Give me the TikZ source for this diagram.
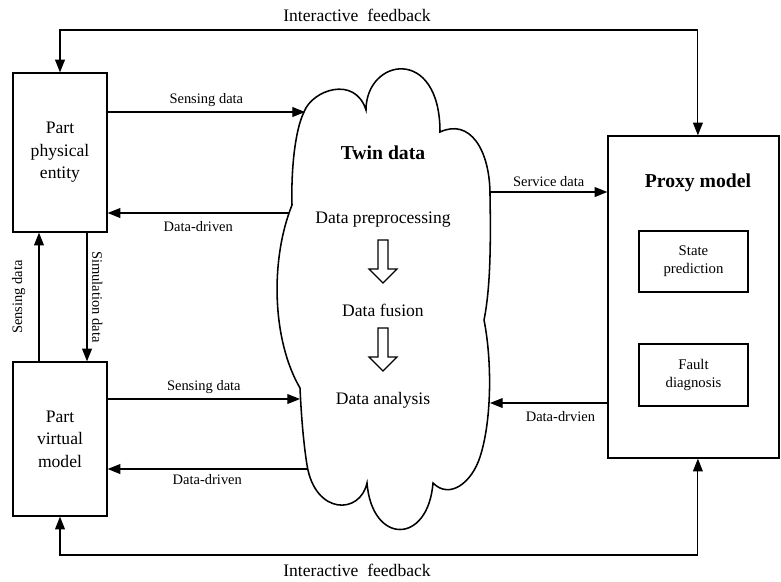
\documentclass[tikz,border=0pt]{standalone}
\usepackage{fontspec}
\setmainfont{Liberation Serif}
\usetikzlibrary{arrows.meta}
\tikzset{
  box/.style={draw, line width=0.9pt, align=center, inner sep=0pt},
  arr/.style={-{Triangle[length=9pt,width=7pt]}, line width=0.8pt},
  lab/.style={font=\fontsize{10.3}{12}\selectfont},
  big/.style={font=\fontsize{12.5}{16}\selectfont},
  title/.style={font=\fontsize{14}{16}\selectfont\bfseries},
}
\begin{document}
\begin{tikzpicture}[x=0.025cm, y=-0.025cm]
  \useasboundingbox (0,0) rectangle (781,581);
  % 零件物理实体与虚拟模型
  \node[box, big, minimum width=2.35cm, minimum height=3.975cm] (phy) at (60,152.5) {Part\\physical\\entity};
  \node[box, big, minimum width=2.35cm, minimum height=3.85cm] (vir) at (60,439) {Part\\virtual\\model};
  % 代理模型
  \node[box, minimum width=4.275cm, minimum height=8.05cm] (pro) at (693.5,297) {};
  \node[title] (ptitle) at (698,183) {Proxy model};
  \node[box, font=\fontsize{10.5}{12.7}\selectfont, minimum width=2.725cm, minimum height=1.525cm] (state) at (693.5,261.5) {State\\prediction};
  \node[box, font=\fontsize{10.5}{12.7}\selectfont, minimum width=2.725cm, minimum height=1.55cm] (fault) at (693.5,375) {Fault\\diagnosis};
  % 孪生数据云
  \draw[line width=1.1pt] (304,112)
    .. controls (312,90) and (355,75) .. (366,110)
    .. controls (366,58) and (440,45) .. (440,132)
    .. controls (470,118) and (490,150) .. (490,195)
    .. controls (491,250) and (490,290) .. (484,320)
    .. controls (492,360) and (492,420) .. (480,457)
    .. controls (472,482) and (450,500) .. (433,483)
    .. controls (428,545) and (372,545) .. (367,483)
    .. controls (360,515) and (315,515) .. (307,465)
    .. controls (303,440) and (301,410) .. (300,388)
    .. controls (272,340) and (270,260) .. (292,205)
    .. controls (291,170) and (295,130) .. (304,112) -- cycle;
  \node[title] (twin) at (383,153) {Twin data};
  \node[big] (pre) at (383,220) {Data preprocessing};
  \node[big] (fus) at (383,310) {Data fusion};
  \node[big] (ana) at (383,400) {Data analysis};
  % 空心箭头
  \foreach \y in {240,328}
    \draw[line width=0.8pt] (378,\y) -- (388,\y) -- (388,\y+29) -- (397,\y+29)
      -- (383,\y+43) -- (369,\y+29) -- (378,\y+29) -- cycle;
  % 云边上的连接点
  \coordinate (ct1) at (305,112);
  \coordinate (ct2) at (289,213);
  \coordinate (cb1) at (300,399);
  \coordinate (cb2) at (307,469);
  \coordinate (cr1) at (490,192);
  \coordinate (cr2) at (490,403);
  % 实体与云之间
  \draw[arr] (ct1 -| phy.east) -- (ct1) node[lab, midway, above] {Sensing data};
  \draw[arr] (ct2) -- (ct2 -| phy.east) node[lab, midway, below=2pt] {Data-driven};
  \draw[arr] (cb1 -| vir.east) -- (cb1) node[lab, midway, above] {Sensing data};
  \draw[arr] (cb2) -- (cb2 -| vir.east) node[lab, midway, below] {Data-driven};
  % 云与代理模型之间
  \draw[arr] (cr1) -- (cr1 -| pro.west) node[lab, midway, above] {Service data};
  \draw[arr] (cr2 -| pro.west) -- (cr2) node[lab, pos=0.4, below=2pt] {Data-drvien};
  % 实体与虚拟模型之间
  \draw[arr] ([xshift=-0.525cm]vir.north) -- ([xshift=-0.525cm]phy.south)
    node[lab, midway, sloped, above=6pt] {Sensing data};
  \draw[arr] ([xshift=0.675cm]phy.south) -- ([xshift=0.675cm]vir.north)
    node[lab, midway, sloped, above] {Simulation data};
  % 交互反馈
  \coordinate (fbt) at (380,30);
  \coordinate (fbb) at (380,555);
  \draw[arr] (fbt) -| (phy.north);
  \draw[arr] (fbt) -| ([xshift=0.11cm]pro.north);
  \draw[arr] (fbb) -| (vir.south);
  \draw[arr] (fbb) -| ([xshift=0.11cm]pro.south);
  \node[big] (fbtl) at (357,15) {Interactive\ \ feedback};
  \node[big] (fbbl) at (357,570) {Interactive\ \ feedback};
\end{tikzpicture}
\end{document}
